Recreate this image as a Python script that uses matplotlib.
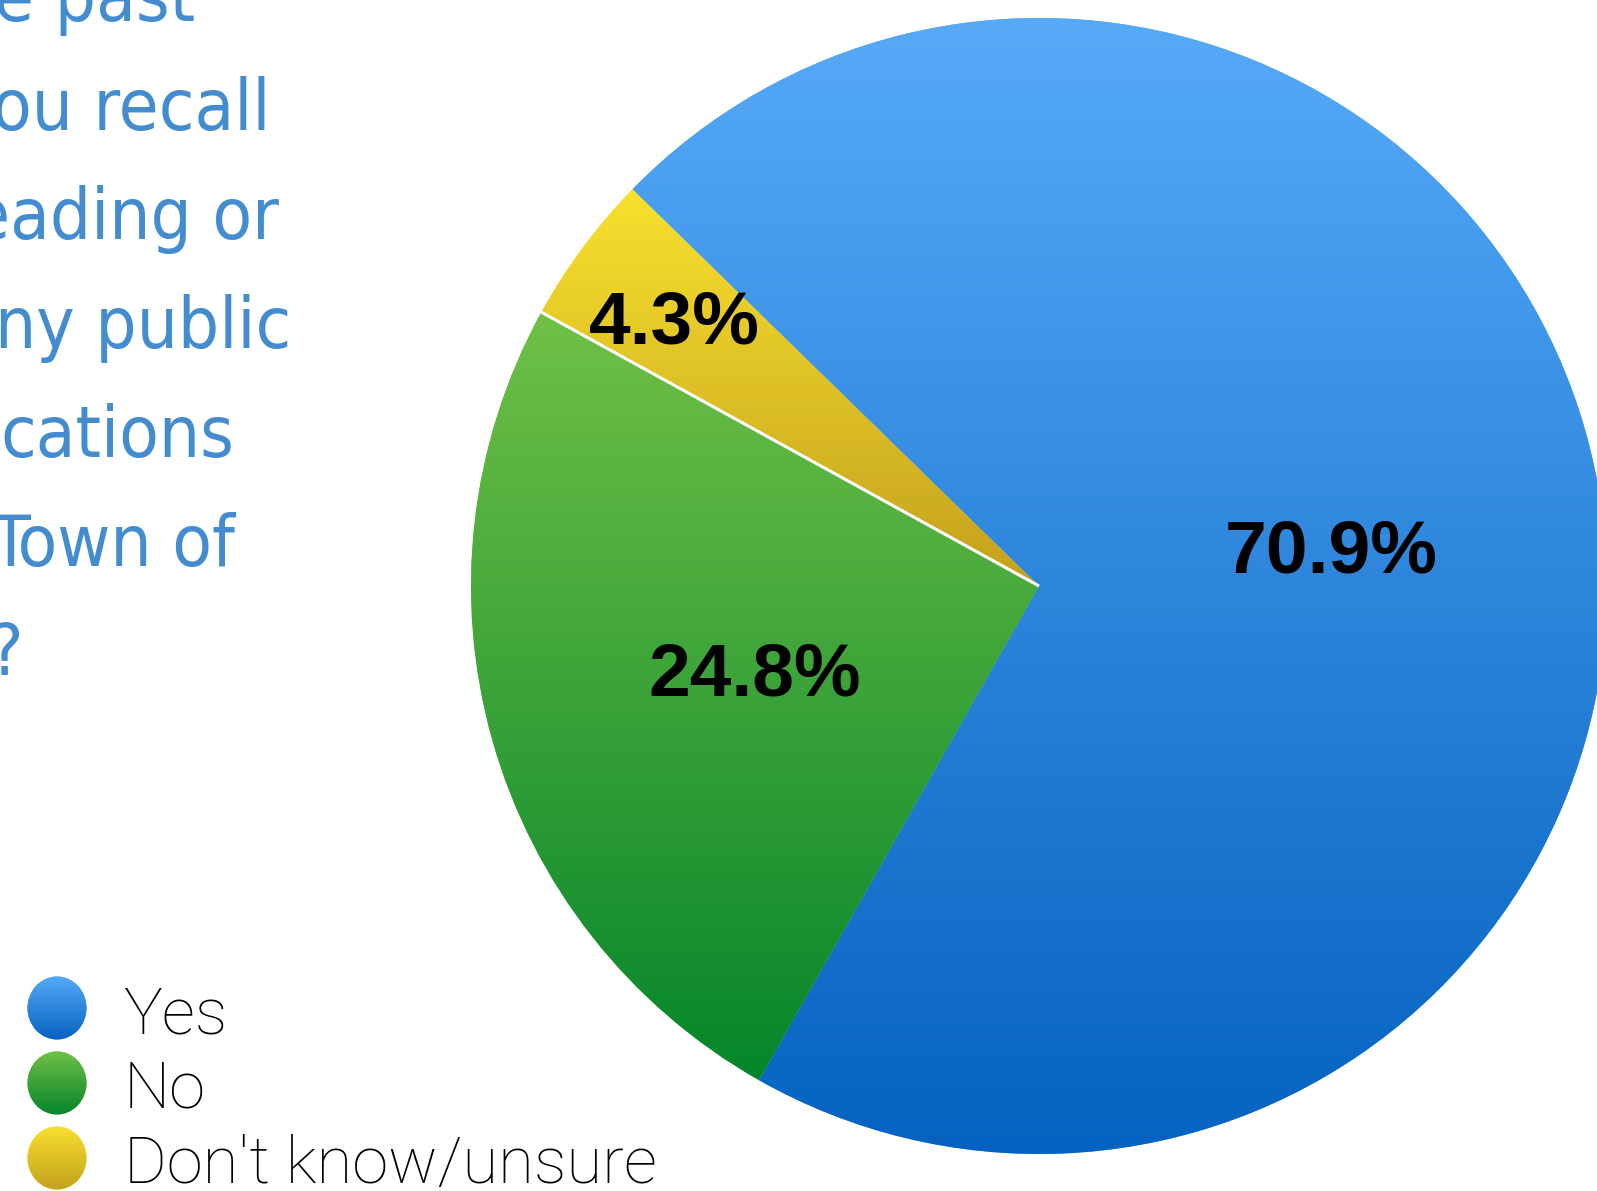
import matplotlib
matplotlib.use('Agg')
import matplotlib.pyplot as plt
from matplotlib.patches import Ellipse
from matplotlib.colors import to_rgb
import numpy as np

# data
labels = ["Yes", "No", "Don't know/unsure"]
shares = [70.9, 24.8, 4.3]
top_colors = ["#56aaf8", "#70c046", "#f9e02e"]
bottom_colors = ["#0562c0", "#05852b", "#c3a11e"]
question_lines = ["e past", "ou recall", "eading or", "ny public", "cations", "Town of", "?"]
question_x = [-6, -8, -30, -5, 0, -10, -12]

W, H = 1597, 1191


def gradient_fill(ax, patch, c_top, c_bot, x0, x1, y0, y1):
    """Fill a patch with a vertical gradient, clipped to its shape."""
    t = np.linspace(0, 1, 256)[:, None, None]
    arr = np.array(to_rgb(c_top)) * (1 - t) + np.array(to_rgb(c_bot)) * t
    im = ax.imshow(arr, extent=(x0, x1, y0, y1), origin='upper', aspect='auto',
                   interpolation='bilinear', zorder=patch.get_zorder() + 0.1)
    im.set_clip_path(patch)


fig = plt.figure(figsize=(W / 100, H / 100), dpi=100)
ax = fig.add_axes([0, 0, 1, 1])

# pie, pixel-like data coords (y up)
cx, cy, r = 1039, H - 586, 568
wedges, texts, autotexts = ax.pie(
    shares, colors=top_colors, startangle=135.7, counterclock=False,
    center=(cx, cy), radius=r, autopct='%1.1f%%', pctdistance=0.52,
    wedgeprops=dict(linewidth=0),
    textprops=dict(fontsize=54, fontweight='bold', family='Liberation Sans',
                   color='black', zorder=6))

for w, ct, cb in zip(wedges, top_colors, bottom_colors):
    b = w.get_path().get_extents()
    gradient_fill(ax, w, ct, cb, b.x0, b.x1, b.y0, b.y1)

# small slice label sits further out
small = wedges[2]
mid = np.deg2rad((small.theta1 + small.theta2) / 2)
autotexts[2].set_position((cx + 0.80 * r * np.cos(mid), cy + 0.80 * r * np.sin(mid)))
for t in autotexts:
    x, y = t.get_position()
    t.set_position((x, y - 9))

# thin white seam between the yellow and green slices
ang = np.deg2rad(small.theta2)
ax.plot([cx, cx + r * np.cos(ang)], [cy, cy + r * np.sin(ang)],
        color='white', lw=2.2, zorder=4, solid_capstyle='butt')

# question text, cut off at the left edge
base = 21
for i, (line, x) in enumerate(zip(question_lines, question_x)):
    ax.text(x, H - (base + 109 * i), line, fontsize=52, color='#438ccf',
            family='DejaVu Sans', fontstretch='condensed', fontweight='normal',
            ha='left', va='baseline', zorder=6)

# legend
leg_y = [1008, 1083, 1158]
for lab, yy, ct, cb in zip(labels, leg_y, top_colors, bottom_colors):
    e = Ellipse((57, H - yy), 59, 63, facecolor=ct, edgecolor='none', zorder=3)
    ax.add_patch(e)
    gradient_fill(ax, e, ct, cb, 57 - 30, 57 + 30, H - yy - 32, H - yy + 32)
    ax.text(124, H - yy - 25, lab, fontsize=47, family='Roboto', fontweight='light',
            color='black', ha='left', va='baseline', zorder=6)

ax.set_xlim(0, W)
ax.set_ylim(0, H)
ax.set_aspect('auto')
ax.axis('off')

plt.savefig('out.png', dpi=100, facecolor='white')
plt.close()
